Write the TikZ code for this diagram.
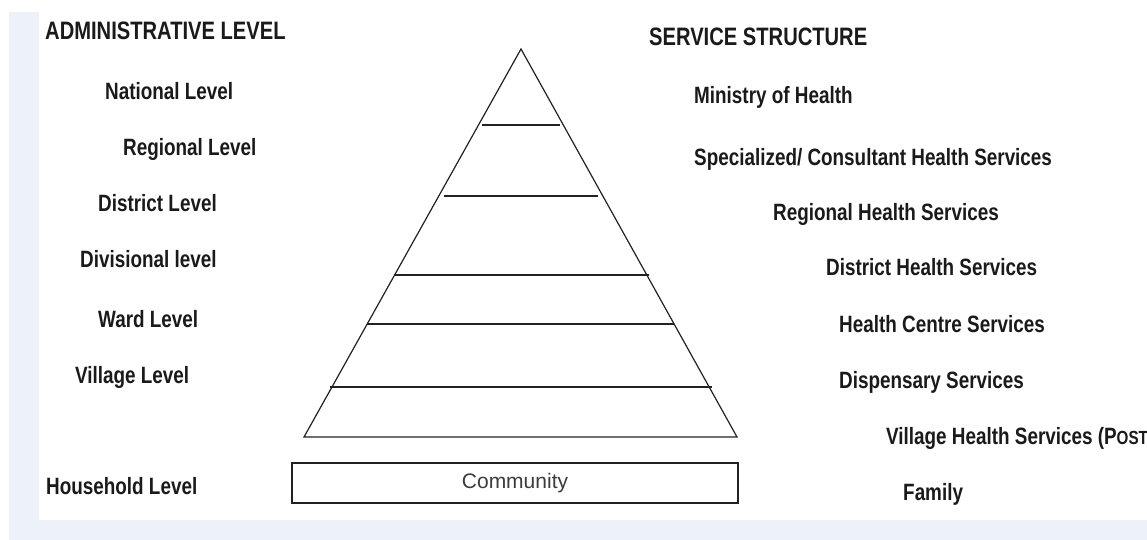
\documentclass[tikz,border=0pt]{standalone}
\usepackage{fontspec}
\setmainfont{Liberation Sans}
\newfontfamily\nb[FakeStretch=0.80]{Liberation Sans}
\definecolor{bgblue}{HTML}{EDF2FA}
\definecolor{ink}{HTML}{1A1A1A}
\definecolor{line}{HTML}{222222}
\begin{document}
\begin{tikzpicture}[x=1pt,y=-1pt,
  lbl/.style={anchor=base west,inner sep=0pt,text=ink,font=\nb\bfseries\fontsize{23.6}{26}\selectfont},
  head/.style={lbl,font=\nb\bfseries\fontsize{25.2}{28}\selectfont},
  pyr/.style={draw=line,line width=1.2pt},
  comm/.style={draw=line,line width=1.2pt,inner sep=0pt,text=ink!85,font=\fontsize{21}{24}\selectfont}]
\useasboundingbox (0,0) rectangle (1147,540);
\clip (0,0) rectangle (1147,540);
\fill[white] (0,0) rectangle (1147,540);
\fill[bgblue] (9,12) rectangle (1147,540);
\fill[white] (39,0) rectangle (1147,520);
% headings
\node[head] (adm) at (45,40) {ADMINISTRATIVE LEVEL};
\node[head] (srv) at (649,46) {SERVICE STRUCTURE};
% administrative levels
\node[lbl] (nat) at (105,100) {National Level};
\node[lbl] (reg) at (123,156) {Regional Level};
\node[lbl] (dis) at (98,211) {District Level};
\node[lbl] (div) at (80,267) {Divisional level};
\node[lbl] (war) at (98,327) {Ward Level};
\node[lbl] (vil) at (75,383) {Village Level};
\node[lbl] (hou) at (46,494) {Household Level};
% services
\node[lbl] (moh) at (694,104) {Ministry of Health};
\node[lbl] (spe) at (694,166) {Specialized/ Consultant Health Services};
\node[lbl] (rhs) at (773,220) {Regional Health Services};
\node[lbl] (dhs) at (826,275) {District Health Services};
\node[lbl] (hcs) at (839,332) {Health Centre Services};
\node[lbl] (dsp) at (839,388) {Dispensary Services};
\node[lbl] (vhs) at (886,444) {Village Health Services (P{\fontsize{19}{22}\selectfont OST})};
\node[lbl] (fam) at (903,500) {Family};
% pyramid
\coordinate (apex) at (521,49);
\coordinate (bl) at (304,437);
\coordinate (br) at (737,437);
\draw[pyr,line join=miter] (bl) -- (apex) -- (br) -- cycle;
\coordinate (l1a) at (482,125); \coordinate (l1b) at (560,125);
\coordinate (l2a) at (444,196); \coordinate (l2b) at (598,196);
\coordinate (l3a) at (394,275); \coordinate (l3b) at (649,275);
\coordinate (l4a) at (367,324); \coordinate (l4b) at (674,324);
\coordinate (l5a) at (330,387); \coordinate (l5b) at (712,387);
\draw[pyr] (l1a) -- (l1b);
\draw[pyr] (l2a) -- (l2b);
\draw[pyr] (l3a) -- (l3b);
\draw[pyr] (l4a) -- (l4b);
\draw[pyr] (l5a) -- (l5b);
% community box
\node[comm,minimum width=446pt,minimum height=40pt] (com) at (515,483) {Community};
\end{tikzpicture}
\end{document}
